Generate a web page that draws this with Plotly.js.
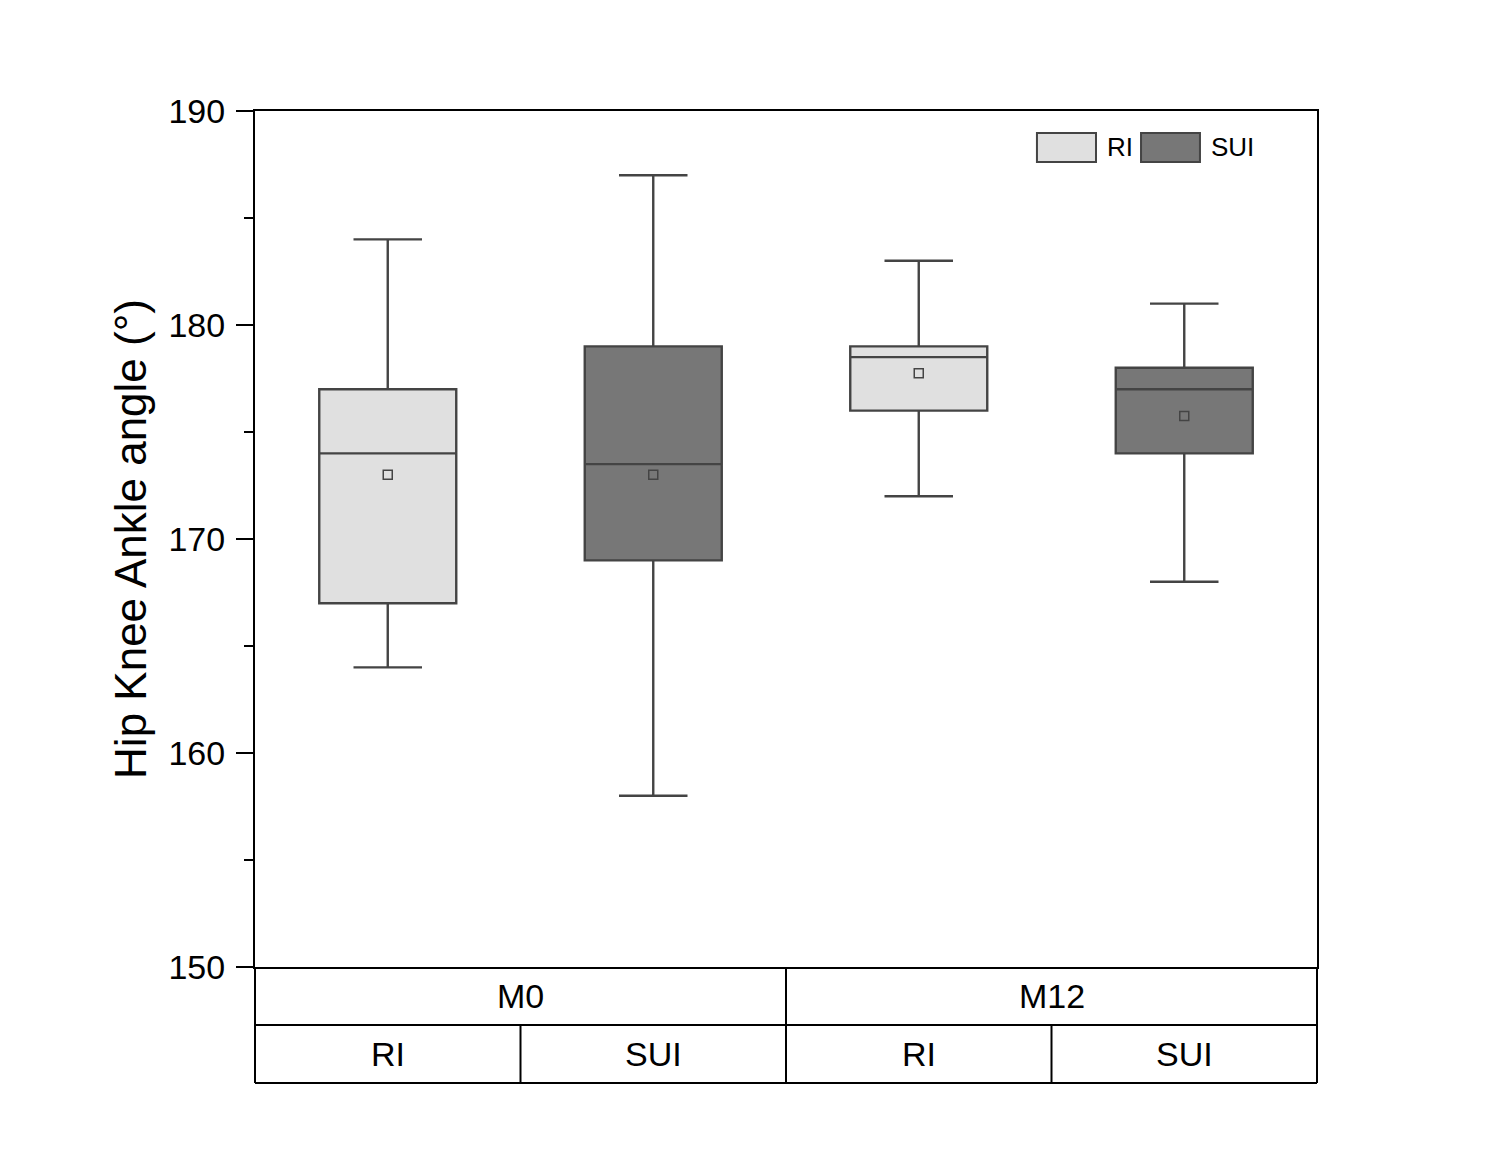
<!DOCTYPE html>
<html>
<head>
<meta charset="utf-8">
<script src="https://cdn.plot.ly/plotly-3.0.1.min.js"></script>
<style>
  html, body { margin: 0; padding: 0; background: #ffffff; }
  #chart { width: 1500px; height: 1156px; }
</style>
</head>
<body>
<div id="chart"></div>
<script>
// categories
const groups = ['M0', 'M12'];
const subgroups = ['RI', 'SUI'];
const xRI = [0, 2];
const xSUI = [1, 3];

// box statistics (degrees)
const riLower = [164, 172];
const riQ1 = [167, 176];
const riMedian = [174, 178.5];
const riQ3 = [177, 179];
const riUpper = [184, 183];
const riMean = [173, 177.75];

const suiLower = [158, 168];
const suiQ1 = [169, 174];
const suiMedian = [173.5, 177];
const suiQ3 = [179, 178];
const suiUpper = [187, 181];
const suiMean = [173, 175.75];

const yTicks = [150, 160, 170, 180, 190];

const lightFill = '#e0e0e0';
const darkFill = '#777777';
const edge = '#444444';
const fontFam = 'Liberation Sans, Arial, sans-serif';

const xRange = [-0.5, 3.5];
const toPaper = v => (v - xRange[0]) / (xRange[1] - xRange[0]);

function boxTrace(name, x, lo, q1, med, q3, hi, fill) {
    return {
        type: 'box',
        name: name,
        x: x,
        lowerfence: lo,
        q1: q1,
        median: med,
        q3: q3,
        upperfence: hi,
        width: 0.516,
        whiskerwidth: 0.5,
        fillcolor: fill,
        line: { color: edge, width: 2.4 },
        boxpoints: false,
        hoverinfo: 'skip',
        showlegend: false,
    };
}
function meanTrace(x, m) {
    return {
        type: 'scatter',
        mode: 'markers',
        x: x,
        y: m,
        marker: { symbol: 'square-open', size: 9, color: edge, line: { width: 1.5, color: edge } },
        hoverinfo: 'skip',
        showlegend: false,
    };
}

const data = [
    boxTrace('RI', xRI, riLower, riQ1, riMedian, riQ3, riUpper, lightFill),
    boxTrace('SUI', xSUI, suiLower, suiQ1, suiMedian, suiQ3, suiUpper, darkFill),
    meanTrace(xRI, riMean),
    meanTrace(xSUI, suiMean),
];

// bottom category table
const rowH = 58 / 856;
const shapes = [];
const annotations = [];
const lineStyle = { color: 'black', width: 2 };
shapes.push({ type: 'line', xref: 'paper', yref: 'paper', x0: 0, x1: 1, y0: -rowH, y1: -rowH, line: lineStyle });
shapes.push({ type: 'line', xref: 'paper', yref: 'paper', x0: 0, x1: 1, y0: -2 * rowH, y1: -2 * rowH, line: lineStyle });
// group borders (full height)
for (let g = 0; g <= groups.length; ++g) {
    let xb = toPaper(xRange[0] + g * 2);
    shapes.push({ type: 'line', xref: 'paper', yref: 'paper', x0: xb, x1: xb, y0: 0, y1: -2 * rowH, line: lineStyle });
}
// subgroup borders (bottom row)
for (let g = 0; g < groups.length; ++g) {
    let xb = toPaper(xRange[0] + g * 2 + 1);
    shapes.push({ type: 'line', xref: 'paper', yref: 'paper', x0: xb, x1: xb, y0: -rowH, y1: -2 * rowH, line: lineStyle });
}
groups.forEach((g, i) => {
    annotations.push({
        xref: 'paper', yref: 'paper', x: toPaper(i * 2 + 0.5), y: -rowH / 2,
        text: g, showarrow: false, xanchor: 'center', yanchor: 'middle',
        font: { family: fontFam, size: 34, color: 'black' },
    });
});
[...xRI, ...xSUI].sort().forEach(x => {
    annotations.push({
        xref: 'paper', yref: 'paper', x: toPaper(x), y: -1.5 * rowH,
        text: subgroups[x % 2], showarrow: false, xanchor: 'center', yanchor: 'middle',
        font: { family: fontFam, size: 34, color: 'black' },
    });
});

// legend drawn by hand
const legendPatches = [
    { x0: 0.7363, x1: 0.7919, fill: lightFill, label: 'RI', tx: 0.8004 },
    { x0: 0.8343, x1: 0.8898, fill: darkFill, label: 'SUI', tx: 0.8983 },
];
legendPatches.forEach(p => {
    shapes.push({
        type: 'rect', xref: 'paper', yref: 'paper', x0: p.x0, x1: p.x1, y0: 0.9404, y1: 0.9743,
        fillcolor: p.fill, line: { color: edge, width: 2 },
    });
    annotations.push({
        xref: 'paper', yref: 'paper', x: p.tx, y: 0.9585, text: p.label, showarrow: false,
        xanchor: 'left', yanchor: 'middle', font: { family: fontFam, size: 26, color: 'black' },
    });
});

const layout = {
    width: 1500,
    height: 1156,
    margin: { l: 255, r: 183, t: 111, b: 189, pad: 0 },
    paper_bgcolor: '#ffffff',
    plot_bgcolor: '#ffffff',
    font: { family: fontFam, color: 'black' },
    showlegend: false,
    boxmode: 'overlay',
    xaxis: {
        range: xRange,
        showgrid: false,
        zeroline: false,
        showticklabels: false,
        ticks: '',
        showline: true,
        mirror: true,
        linecolor: 'black',
        linewidth: 2,
    },
    yaxis: {
        range: [150, 190],
        tickvals: yTicks,
        ticktext: yTicks.map(String),
        showgrid: false,
        zeroline: false,
        ticks: 'outside',
        ticklen: 17,
        tickwidth: 2,
        tickcolor: 'black',
        ticklabelstandoff: 4,
        tickfont: { family: fontFam, size: 34, color: 'black' },
        minor: { tickvals: [155, 165, 175, 185], ticks: 'outside', ticklen: 9, tickwidth: 2, tickcolor: 'black' },
        showline: true,
        mirror: true,
        linecolor: 'black',
        linewidth: 2,
        title: { text: 'Hip Knee Ankle angle (°)', standoff: 8, font: { family: fontFam, size: 44, color: 'black' } },
    },
    shapes: shapes,
    annotations: annotations,
};

Plotly.newPlot('chart', data, layout, { staticPlot: true, displayModeBar: false });
</script>
</body>
</html>
